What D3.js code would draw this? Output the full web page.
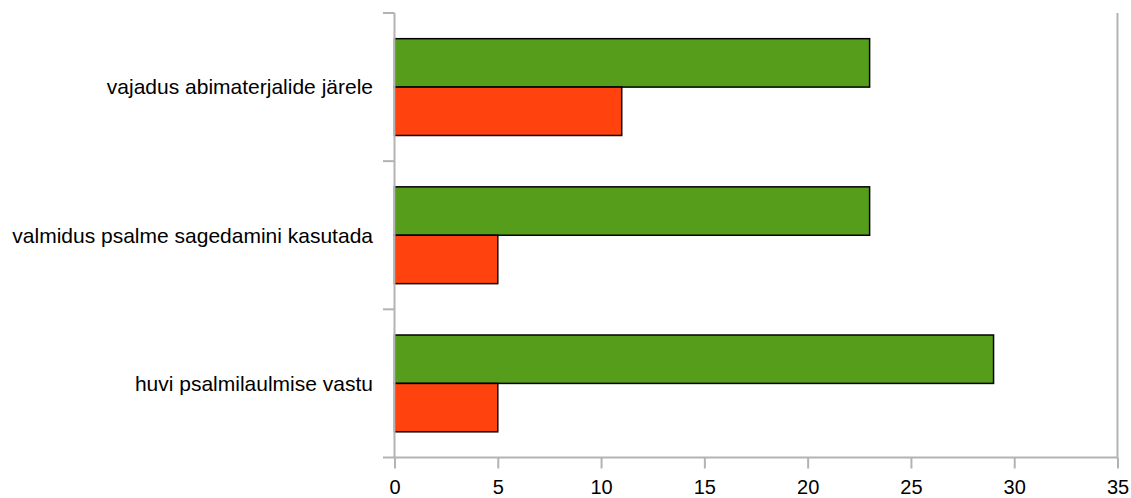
<html>
<head>
<meta charset="utf-8">
<script src="https://d3js.org/d3.v7.min.js"></script>
<style>
  body { margin: 0; background: #fff; }
  text { font-family: "Liberation Sans", Arial, sans-serif; }
</style>
</head>
<body>
<script>
  const categories = ["vajadus abimaterjalide järele", "valmidus psalme sagedamini kasutada", "huvi psalmilaulmise vastu"];
  const greenValues = [23, 23, 29];
  const redValues = [11, 5, 5];
  const xTicks = [0, 5, 10, 15, 20, 25, 30, 35];

  const w = 1131, h = 498;
  const plotLeft = 394.5, plotRight = 1117.5, plotTop = 13, plotBottom = 457.5;

  const svg = d3.select("body").append("svg").attr("width", w).attr("height", h);

  const x = d3.scaleLinear().domain([0, 35]).range([plotLeft, plotRight]);
  const y = d3.scaleBand().domain(categories).range([plotTop, plotBottom]).paddingInner(0.3466).paddingOuter(0.1733);
  const sub = d3.scaleBand().domain(["g", "r"]).range([0, y.bandwidth()]);

  // right border
  svg.append("line").attr("x1", plotRight).attr("x2", plotRight).attr("y1", plotTop).attr("y2", plotBottom)
    .attr("stroke", "#b3b3b3").attr("stroke-width", 2);

  const rows = categories.map((c, i) => ({ c: c, g: greenValues[i], r: redValues[i] }));

  const gRow = svg.selectAll(".row").data(rows).enter().append("g")
    .attr("transform", d => "translate(0," + y(d.c) + ")");

  gRow.append("rect").attr("x", x(0)).attr("y", sub("g"))
    .attr("width", d => x(d.g) - x(0)).attr("height", sub.bandwidth())
    .attr("fill", "#579d1c").attr("stroke", "#000").attr("stroke-width", 1.5);
  gRow.append("rect").attr("x", x(0)).attr("y", sub("r"))
    .attr("width", d => x(d.r) - x(0)).attr("height", sub.bandwidth())
    .attr("fill", "#ff420e").attr("stroke", "#000").attr("stroke-width", 1.5);

  // x axis
  const xAxis = svg.append("g").attr("transform", "translate(0," + plotBottom + ")")
    .call(d3.axisBottom(x).tickValues(xTicks).tickSize(11).tickPadding(11));
  xAxis.select(".domain").attr("d", "M383,0H" + plotRight).attr("stroke", "#b3b3b3").attr("stroke-width", 2);
  xAxis.selectAll(".tick line").attr("stroke", "#b3b3b3").attr("stroke-width", 2);
  xAxis.selectAll(".tick text").attr("font-size", 20).attr("fill", "#000")
    .attr("font-family", "Liberation Sans, Arial, sans-serif");

  // y axis: ticks on band boundaries
  const yLine = svg.append("g");
  yLine.append("line").attr("x1", plotLeft).attr("x2", plotLeft).attr("y1", plotTop).attr("y2", plotBottom)
    .attr("stroke", "#b3b3b3").attr("stroke-width", 2);
  const step = y.step();
  const bounds = d3.range(categories.length).map(i => plotTop + i * step);
  yLine.selectAll(".yt").data(bounds).enter().append("line")
    .attr("x1", 383).attr("x2", plotLeft).attr("y1", d => d).attr("y2", d => d)
    .attr("stroke", "#b3b3b3").attr("stroke-width", 2);

  svg.selectAll(".cat").data(categories).enter().append("text")
    .attr("x", 373).attr("y", d => y(d) + y.bandwidth() / 2)
    .attr("dy", "0.35em").attr("text-anchor", "end")
    .attr("font-size", 21).attr("fill", "#000")
    .text(d => d);
</script>
</body>
</html>
